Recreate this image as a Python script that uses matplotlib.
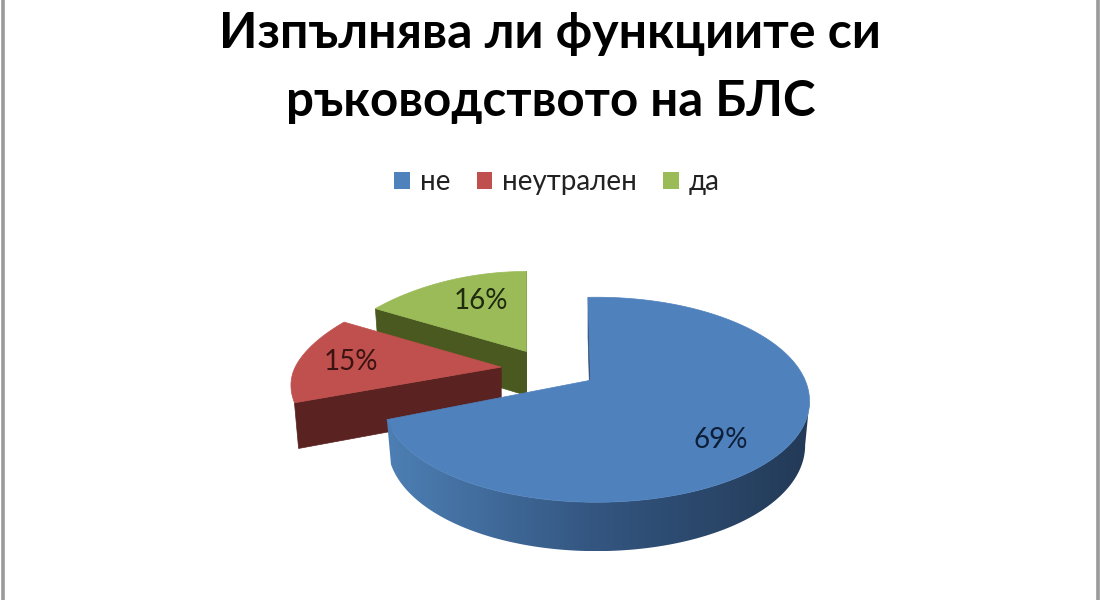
import numpy as np
import matplotlib
matplotlib.use('Agg')
import matplotlib.pyplot as plt
from matplotlib.colors import LinearSegmentedColormap
from matplotlib.patches import Patch, Polygon

categories = ['не', 'неутрален', 'да']
values = [69, 15, 16]
pct_labels = ['69%', '15%', '16%']
title_lines = ['Изпълнява ли функциите си', 'ръководството на БЛС']

top_colors = ['#4f81bd', '#c0504d', '#9bbb59']
side_colors = ['#2f4f78', '#5a2220', '#49591f']
label_colors = ['#0d1f38', '#3a1312', '#1f2a0e']
label_pos = [(721, 440), (351, 362), (481, 301)]

# pie geometry, in pixels of the 1100x600 picture
cx, cy = 550, 369
explode_x, explode_y = 49, 20
rad_x = [213, 206, 198]
rad_y = [104, 84, 80]
bulge = [-3, 35, 35]
persp = [0, 0.2, 0.2]
# the big slice sits off centre of its own ellipse
shift_x = [6, 0, 0]
shift_y = [21, 0, 0]
warp = [1.055, 1, 1]
skew = [-0.04, 0, 0]
depth = 44

plt.rcParams['font.family'] = ['Lato', 'Noto Sans', 'DejaVu Sans']

blue_wall = LinearSegmentedColormap.from_list('wall', ['#4d7fb4', '#33557f', '#233a57'])


def project(i, ax_x, ax_y, t, low=False):
    # t is the slice angle, clockwise from 12 o'clock
    phi = t * warp[i] + skew[i]
    u, v = np.sin(phi), np.cos(phi)
    off_x = shift_x[i] + u * rad_x[i] / (1 + persp[i] * v)
    off_y = v * (rad_y[i] + bulge[i] * np.maximum(-v, 0)) - shift_y[i]
    if low:
        return ax_x + off_x * 0.98, ax_y - off_y + depth / (1 + 0.1 * v)
    return ax_x + off_x, ax_y - off_y


fig = plt.figure(figsize=(11, 6), dpi=100)
ax = fig.add_axes([0, 0, 1, 1])
ax.axis('off')

# grey frame, only the two sides are in the crop
ax.axvline(2.5, color='#9a9a9a', lw=2.6)
ax.axvline(1098, color='#9a9a9a', lw=2.6)

ax.text(550, 33, title_lines[0], ha='center', va='center', fontsize=36, fontweight='bold', color='black')
ax.text(551, 101, title_lines[1], ha='center', va='center', fontsize=35.5, fontweight='bold', color='black')

# slice angles clockwise from 12 o'clock
fracs = np.array(values) / sum(values)
ends = np.cumsum(fracs) * 2 * np.pi
starts = ends - fracs * 2 * np.pi

# back to front: green, red, blue
for i in [2, 1, 0]:
    t0, t1 = starts[i], ends[i]
    mid = (t0 + t1) / 2
    apex_x = cx + explode_x * np.sin(mid)
    apex_y = cy - explode_y * np.cos(mid)
    th = np.linspace(t0, t1, 240)
    rim_x, rim_y = project(i, apex_x, apex_y, th)

    # flat cut faces
    for t, normal in [(t0, t0 - np.pi / 2), (t1, t1 + np.pi / 2)]:
        if np.cos(normal) < 1e-6:
            ex, ey = project(i, apex_x, apex_y, t)
            lx, ly = project(i, apex_x, apex_y, t, True)
            ax.add_patch(Polygon([(apex_x, apex_y), (ex, ey), (lx, ly), (apex_x, apex_y + depth)],
                                 closed=True, fc=side_colors[i], ec=side_colors[i], lw=0.5))

    # outer wall with its gradient, only the big slice shows one
    if i == 0:
        front = np.cos(th * warp[i] + skew[i]) < 0.02
        low_x, low_y = project(i, apex_x, apex_y, th[front], True)
        wall = np.column_stack([np.r_[rim_x[front], low_x[::-1]], np.r_[rim_y[front], low_y[::-1]]])
        wall_patch = Polygon(wall, closed=True, fc='none', ec='none')
        ax.add_patch(wall_patch)
        x0, x1 = wall[:, 0].min(), wall[:, 0].max()
        y0, y1 = wall[:, 1].min(), wall[:, 1].max()
        ramp = np.linspace(0, 1, 256).reshape(1, -1)
        img = ax.imshow(ramp, cmap=blue_wall, extent=(x0, x1, y1, y0), aspect='auto', zorder=1)
        img.set_clip_path(wall_patch)

    pts = np.column_stack([np.r_[apex_x, rim_x], np.r_[apex_y, rim_y]])
    ax.add_patch(Polygon(pts, closed=True, fc=top_colors[i], ec=top_colors[i], lw=0.5, zorder=2))

    ax.text(label_pos[i][0], label_pos[i][1], pct_labels[i], ha='center', va='center',
            fontsize=20, color=label_colors[i], zorder=3)

ax.set_xlim(0, 1100)
ax.set_ylim(600, 0)

handles = [Patch(fc=c, ec='none', label=n) for c, n in zip(top_colors, categories)]
ax.legend(handles=handles, ncol=3, frameon=False, loc='center', bbox_to_anchor=(557 / 1100, 1 - 182 / 600),
          fontsize=20, handlelength=0.57, handleheight=0.57, handletextpad=0.35, columnspacing=0.95,
          labelcolor='#222222')

fig.savefig('out.png', dpi=100)
